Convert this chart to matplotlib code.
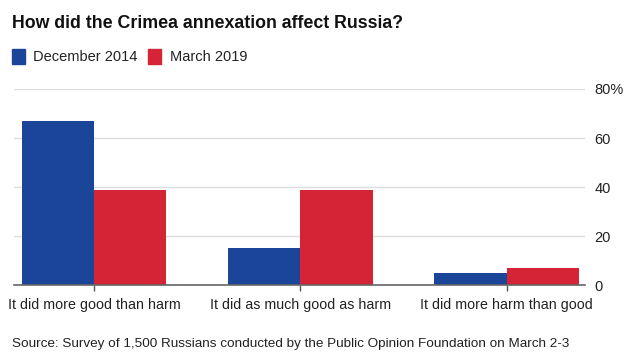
import matplotlib.pyplot as plt
import numpy as np

plt.rcParams['font.family'] = ['Liberation Sans', 'DejaVu Sans']

categories = ["It did more good than harm", "It did as much good as harm", "It did more harm than good"]
series_names = ["December 2014", "March 2019"]
dec_2014 = [67, 15, 5]
mar_2019 = [39, 39, 7]
yticks = [0, 20, 40, 60, 80]
ytick_labels = ["0", "20", "40", "60", "80%"]

blue = "#1a4599"
red = "#d42435"

fig = plt.figure(figsize=(6.31, 3.56), dpi=100)
ax = fig.add_axes([0.022, 0.199, 0.905, 0.551])

x = np.arange(len(categories))
w = 0.35
ax.bar(x - w / 2, dec_2014, w, color=blue, zorder=3)
ax.bar(x + w / 2, mar_2019, w, color=red, zorder=3)

ax.set_xlim(-0.39, 2.38)
ax.set_ylim(0, 80)
ax.set_yticks(yticks)
ax.set_yticklabels(ytick_labels)
ax.yaxis.tick_right()
ax.tick_params(axis='y', length=0, pad=7, labelsize=10.5, labelcolor="#222222")
ax.set_xticks(x)
ax.set_xticklabels(categories)
ax.tick_params(axis='x', length=4, width=1, color="#555555", pad=5, labelsize=10.3, labelcolor="#222222")
ax.grid(axis='y', color="#dddddd", linewidth=1, zorder=0)
for s in ["top", "left", "right"]:
    ax.spines[s].set_visible(False)
ax.spines["bottom"].set_color("#666666")
ax.spines["bottom"].set_linewidth(1.2)
ax.spines["bottom"].set_zorder(4)

fig.text(0.019, 0.935, "How did the Crimea annexation affect Russia?", fontsize=12.8,
         fontweight="bold", color="#111111", va="center")

# legend
fig.patches.append(plt.Rectangle((12 / 631, 1 - 64 / 356), 13 / 631, 15 / 356,
                                 transform=fig.transFigure, color=blue, figure=fig))
fig.text(33 / 631, 1 - 57 / 356, series_names[0], fontsize=10.5, va="center", color="#222222")
fig.patches.append(plt.Rectangle((148 / 631, 1 - 64 / 356), 13 / 631, 15 / 356,
                                 transform=fig.transFigure, color=red, figure=fig))
fig.text(170 / 631, 1 - 57 / 356, series_names[1], fontsize=10.5, va="center", color="#222222")

fig.text(0.019, 1 - 344 / 356, "Source: Survey of 1,500 Russians conducted by the Public Opinion Foundation on March 2-3",
         fontsize=9.7, va="center", color="#222222")

fig.savefig("out.png", dpi=100)
